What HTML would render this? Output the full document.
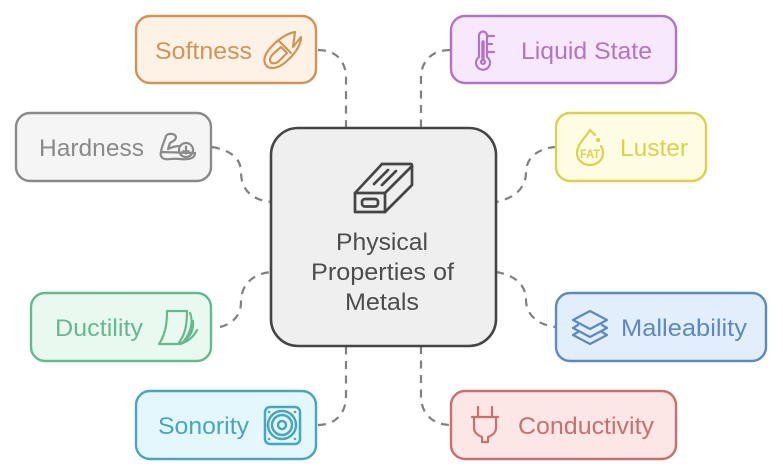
<!DOCTYPE html>
<html><head><meta charset="utf-8"><style>
html,body{margin:0;padding:0;background:#fff}
svg{display:block}
text{font-family:"Liberation Sans",sans-serif;font-size:24.500px}
.c{fill:none;stroke:#808080;stroke-width:2.200;stroke-dasharray:8 6.500}
.i{fill:none;stroke-width:2.200;stroke-linecap:round;stroke-linejoin:round}
</style></head><body>
<svg width="783" height="475" viewBox="0 0 783 475" xmlns="http://www.w3.org/2000/svg">
<rect width="783" height="475" fill="#fff"/>
<path class="c" d="M318 50C335 50 346 60 346 78V128"/>
<path class="c" d="M212 147C230 150 241 158 241 172C241 190 252 200 271 202"/>
<path class="c" d="M450 50C433 50 421 60 421 78V128"/>
<path class="c" d="M556 147C538 148 526 158 526 172C526 188 515 198 496 202"/>
<path class="c" d="M220 327C232 324 241 316 241 302C241 285 252 274 271 272"/>
<path class="c" d="M318 425C335 425 346 414 346 396V346"/>
<path class="c" d="M496 272C515 275 526 285 526 300C526 315 538 325 556 327"/>
<path class="c" d="M421 346V396C421 414 433 425 451 425"/>

<rect x="136" y="16" width="180" height="67" rx="14" fill="#fdf2e5" stroke="#cf9556" stroke-width="2.400"/>
<rect x="16" y="113" width="195" height="68" rx="14" fill="#f5f5f5" stroke="#8a8a8a" stroke-width="2.400"/>
<rect x="451" y="16" width="225" height="67" rx="14" fill="#f8e8fd" stroke="#b075c4" stroke-width="2.400"/>
<rect x="556" y="113" width="150" height="68" rx="14" fill="#fefce2" stroke="#dcd04e" stroke-width="2.400"/>
<rect x="31" y="293" width="180" height="68" rx="14" fill="#e9f9f0" stroke="#66b98e" stroke-width="2.400"/>
<rect x="136" y="391" width="180" height="68" rx="14" fill="#e4f7fc" stroke="#4ba5be" stroke-width="2.400"/>
<rect x="556" y="293" width="210" height="68" rx="14" fill="#e2eefb" stroke="#5c8abf" stroke-width="2.400"/>
<rect x="451" y="391" width="225" height="68" rx="14" fill="#fde6e6" stroke="#c87070" stroke-width="2.400"/>
<rect x="271" y="128" width="225" height="218" rx="27" fill="#efefef" stroke="#454545" stroke-width="2.600"/>

<text x="155" y="59" fill="#cf9556" textLength="97" lengthAdjust="spacingAndGlyphs">Softness</text>
<text x="39" y="156" fill="#8a8a8a" textLength="105" lengthAdjust="spacingAndGlyphs">Hardness</text>
<text x="521" y="59" fill="#b075c4" textLength="131" lengthAdjust="spacingAndGlyphs">Liquid State</text>
<text x="620" y="156" fill="#dcd04e" textLength="68" lengthAdjust="spacingAndGlyphs">Luster</text>
<text x="55" y="336" fill="#66b98e" textLength="88" lengthAdjust="spacingAndGlyphs">Ductility</text>
<text x="158" y="434" fill="#4ba5be" textLength="91" lengthAdjust="spacingAndGlyphs">Sonority</text>
<text x="621" y="336" fill="#5c8abf" textLength="126" lengthAdjust="spacingAndGlyphs">Malleability</text>
<text x="518" y="434" fill="#c87070" textLength="136" lengthAdjust="spacingAndGlyphs">Conductivity</text>
<text x="336" y="250" fill="#4d4d4d" textLength="92" lengthAdjust="spacingAndGlyphs">Physical</text>
<text x="311" y="280" fill="#4d4d4d" textLength="143" lengthAdjust="spacingAndGlyphs">Properties of</text>
<text x="345" y="310" fill="#4d4d4d" textLength="74" lengthAdjust="spacingAndGlyphs">Metals</text>

<!-- central icon -->
<g class="i" stroke="#454545" style="stroke-width:2.700">
<path d="M355 193L382 164H411Q412 164 412 166V185L385 212H355Z"/>
<path d="M355 193H385L412 166M385 193V212"/>
<rect x="362" y="199" width="16" height="7.500" rx="3"/>
<path d="M374 184L388 170M382 185L396 171"/>
</g>

<!-- softness -->
<g class="i" stroke="#cf9556">
<path d="M295 32C284 34 272 44 266 54C262 62 266 68 272 68C280 68 286 62 292 56C297 50 301 44 301 37L293 47Z"/>
<path d="M270 60C270 64 275 64 278 62L287 53L281 47L273 54C271 56 270 58 270 60Z"/>
<path d="M279 41L291 53"/>
</g>

<!-- hardness -->
<g class="i" stroke="#8a8a8a">
<path d="M161 152C162 145 165 140 166 136C168 133 175 133 176 137C176 141 171 142 170 143L168 149C172 147 176 146 180 146M195 153C195 158 190 160 180 159C172 158 168 160 165 159C161 158 160 155 161 152Z"/>
<circle cx="186" cy="150" r="7"/>
<path d="M186 146.500V153.500M183.500 151L186 153.500L188.500 151"/>
</g>

<!-- liquid -->
<g class="i" stroke="#b075c4">
<path d="M479 57V36C479 30 487 30 487 36V57A7 7 0 1 1 479 57Z"/>
<circle cx="483" cy="62" r="2"/>
<path d="M483 42V58" style="stroke-width:3.500"/>
<path d="M488 36H494M488 44H492M488 52H494"/>
</g>

<!-- luster -->
<g class="i" stroke="#dcd04e">
<path d="M590 130C586 137 577 144 577 153C577 160 583 165 590 165C597 165 603 160 603 153C603 150 602 148 601 146"/>
<path d="M590 130L595 135"/>
<circle cx="598" cy="140" r="1"/>
</g>
<text x="580" y="158" fill="#dcd04e" style="font-size:12px;font-weight:bold" textLength="20" lengthAdjust="spacingAndGlyphs">FAT</text>

<!-- ductility -->
<g class="i" stroke="#66b98e">
<path d="M167 311H187C187 326 185 335 178 344H159C165 335 167 325 167 311Z"/>
<path d="M190 313C194 322 190 336 181 344M193 321C194 330 190 338 180 344M197 330C193 338 187 342 180 344"/>
</g>

<!-- sonority -->
<g class="i" stroke="#4ba5be" style="stroke-width:2.500">
<rect x="265" y="407" width="35" height="37" rx="5"/>
<circle cx="282" cy="425" r="14"/>
<circle cx="282" cy="425" r="10"/>
<circle cx="282" cy="425" r="4"/>
<path d="M269 412H269.100M295 412H295.100M269 439H269.100M295 439H295.100"/>
</g>

<!-- malleability -->
<g class="i" stroke="#5c8abf">
<path d="M590 311L607 320L590 329L573 320Z"/>
<path d="M578 325L573 328L590 337L607 328L602 325"/>
<path d="M578 332L573 335L590 344L607 335L602 332"/>
</g>

<!-- conductivity -->
<g class="i" stroke="#c87070">
<path d="M478 407V417M492 407V417M472 417H498"/>
<path d="M474 417V428C474 433 479 436 482 437V442H488V437C491 436 496 433 496 428V417"/>
</g>
</svg>
</body></html>
